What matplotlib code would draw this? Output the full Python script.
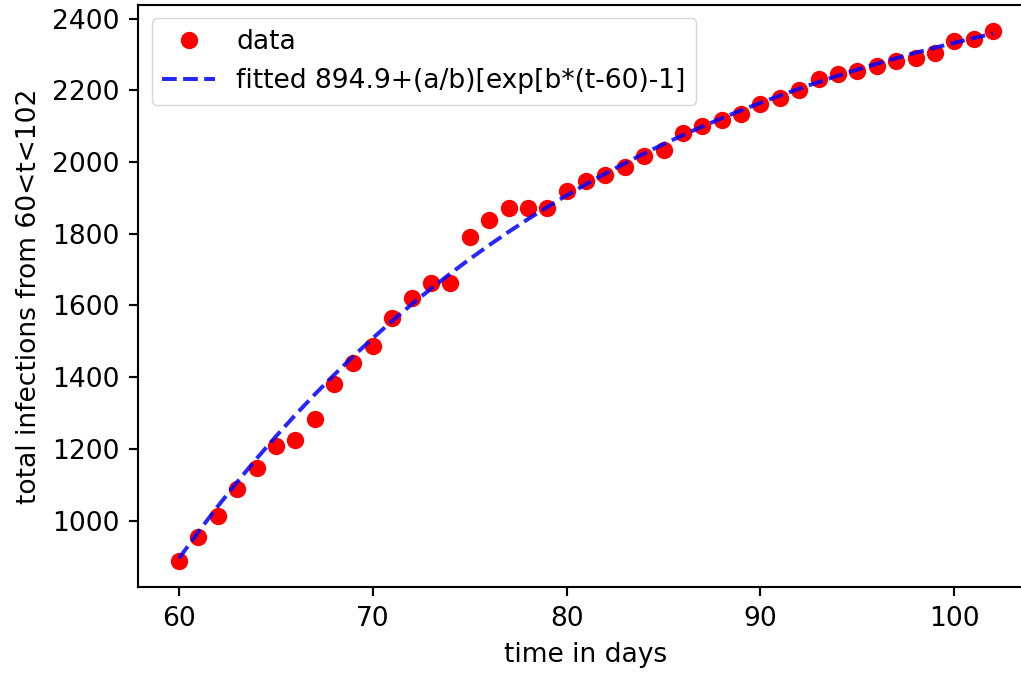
import numpy as np
import matplotlib
matplotlib.use("Agg")
import matplotlib.pyplot as plt

# day numbers and total infections
days = np.arange(60, 103)
infections = [888, 954, 1014, 1088, 1148, 1209, 1224, 1283, 1381, 1440,
              1487, 1566, 1620, 1663, 1662, 1791, 1838, 1871, 1871, 1871,
              1918, 1947, 1964, 1985, 2017, 2033, 2081, 2101, 2117, 2134,
              2162, 2179, 2201, 2232, 2245, 2254, 2269, 2283, 2290, 2303,
              2337, 2342, 2364]
start_value = 894.9
legend_labels = ['data', 'fitted 894.9+(a/b)[exp[b*(t-60)-1]']

# fit y = y0 + (a/b)(exp(b*s) - 1): grid over b, least squares for a
s = days - 60
y = np.array(infections) - start_value
best = None
for b in np.linspace(-0.1, -0.005, 400):
    g = (np.exp(b * s) - 1) / b
    a = (g @ y) / (g @ g)
    err = np.sum((a * g - y) ** 2)
    if best is None or err < best[0]:
        best = (err, a, b)
_, a_fit, b_fit = best
fitted = start_value + (a_fit / b_fit) * (np.exp(b_fit * s) - 1)

scale = 1.91
plt.rcParams.update({
    'font.size': 10 * scale,
    'axes.linewidth': 0.8 * scale,
    'xtick.major.size': 3.5 * scale,
    'ytick.major.size': 3.5 * scale,
    'xtick.major.width': 0.8 * scale,
    'ytick.major.width': 0.8 * scale,
    'xtick.major.pad': 3.5 * scale,
    'ytick.major.pad': 3.5 * scale,
    'axes.labelpad': 4 * scale,
})

fig = plt.figure(figsize=(10.21, 6.75), dpi=100)
# the original image is cropped on the right, so the axes run past the edge
ax = fig.add_axes([0.1355, 0.130, 0.877, 0.8626])
ax.spines['right'].set_visible(False)

ax.plot(days, infections, 'ro', markersize=6 * scale, label=legend_labels[0])
ax.plot(days, fitted, 'b--', linewidth=1.5 * scale, alpha=0.85, label=legend_labels[1])

ax.set_xlabel('time in days')
ax.set_ylabel('total infections from 60<t<102')
ax.legend(loc='upper left')

fig.savefig('out.png', dpi=100)
